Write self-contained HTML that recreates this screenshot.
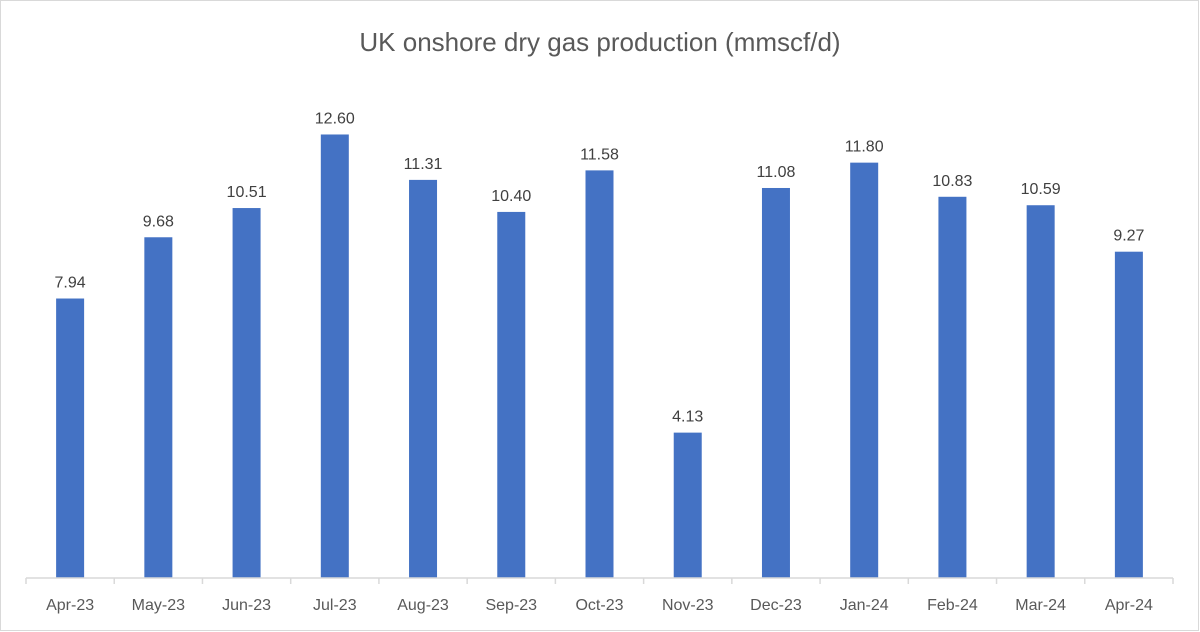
<!DOCTYPE html>
<html><head><meta charset="utf-8"><style>
body{margin:0;background:#fff;}
svg{display:block;font-family:"Liberation Sans",Calibri,sans-serif;}
</style></head><body>
<svg id="c" width="1200" height="632">
<rect x="0.5" y="0.5" width="1198" height="630" fill="#fff" stroke="#d9d9d9"/>
<text x="600" y="51" text-anchor="middle" font-size="26" fill="#595959">UK onshore dry gas production (mmscf/d)</text>
</svg>
<script>
const categories=["Apr-23","May-23","Jun-23","Jul-23","Aug-23","Sep-23","Oct-23","Nov-23","Dec-23","Jan-24","Feb-24","Mar-24","Apr-24"];
const values=[7.94,9.68,10.51,12.60,11.31,10.40,11.58,4.13,11.08,11.80,10.83,10.59,9.27];
const svg=document.getElementById('c');
const NS='http://www.w3.org/2000/svg';
const x0=26,x1=1173,y0=578,pxPerUnit=35.2;
const bw=(x1-x0)/categories.length;
const xs=i=>x0+bw*(i+0.5);
const ys=v=>y0-v*pxPerUnit;
function mk(t,a){const e=document.createElementNS(NS,t);for(const k in a)e.setAttribute(k,a[k]);svg.appendChild(e);return e;}
values.forEach((v,i)=>{
  const r=mk('rect',{x:xs(i)-14,y:ys(v),width:28,height:y0-ys(v),fill:'#4472c4'});
  
  
  const t=mk('text',{x:xs(i),y:ys(v)-11,'text-anchor':'middle','font-size':16,fill:'#404040'});
  t.textContent=v.toFixed(2);
  
  
});
const ax=mk('line',{x1:x0,x2:x1,y1:y0,y2:y0,stroke:'#d9d9d9','stroke-width':1.5});


for(let i=0;i<=categories.length;i++){
  const tk=mk('line',{x1:x0+bw*i,x2:x0+bw*i,y1:y0,y2:y0+6,stroke:'#d9d9d9','stroke-width':1.5});
  
  
}
categories.forEach((c,i)=>{
  const t=mk('text',{x:xs(i),y:610,'text-anchor':'middle','font-size':16,fill:'#595959'});
  t.textContent=c;
  
  
});
</script>
</body></html>
